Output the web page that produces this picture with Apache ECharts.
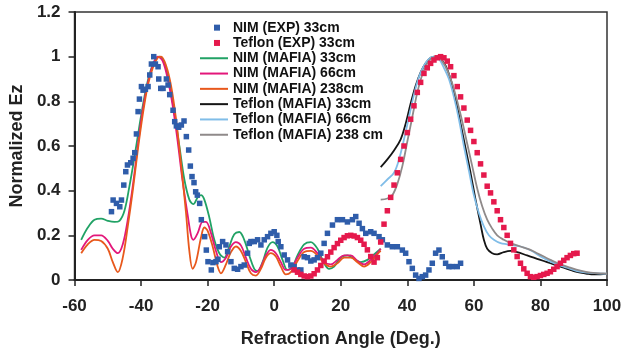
<!DOCTYPE html>
<html>
<head>
<meta charset="utf-8">
<script src="https://cdn.jsdelivr.net/npm/echarts@6/dist/echarts.min.js"></script>
<style>
  html, body { margin: 0; padding: 0; background: #fff; }
  #chart { width: 625px; height: 354px; }
</style>
</head>
<body>
<div id="chart"></div>
<script>
// measured values, [angle in deg, normalized Ez]
const nimExp = [
  [-48.9,0.306],[-48.4,0.358],[-47.4,0.343],[-46.4,0.328],[-45.9,0.358],[-45.2,0.425],[-44.6,0.485],[-44.1,0.515],
  [-43.1,0.525],[-42.4,0.545],[-41.9,0.57],[-41.4,0.654],[-40.9,0.754],[-40.5,0.81],[-39.9,0.866],[-39.4,0.85],
  [-38.7,0.854],[-37.9,0.866],[-37.4,0.918],[-36.9,0.967],[-36.2,1.0],[-35.7,0.967],[-34.9,0.955],[-34.7,0.9],
  [-34.1,0.858],[-33.4,0.858],[-32.4,0.9],[-31.9,0.873],[-31.4,0.83],[-30.4,0.76],[-29.9,0.709],[-29.4,0.69],
  [-28.7,0.684],[-27.9,0.694],[-27.1,0.712],[-26.4,0.642],[-25.7,0.582],[-25.2,0.51],[-24.7,0.463],[-24.1,0.436],
  [-23.6,0.395],[-23.1,0.38],[-22.4,0.343],[-21.9,0.27],[-20.9,0.194],[-20.4,0.134],[-19.9,0.082],[-18.9,0.045],
  [-18.4,0.078],[-17.5,0.082],[-16.9,0.093],[-16.5,0.149],[-15.5,0.172],[-14.5,0.157],[-14,0.127],[-13,0.082],
  [-12,0.052],[-11,0.048],[-10,0.06],[-9,0.067],[-8,0.12],[-7.5,0.164],[-7,0.172],[-6,0.172],[-5,0.18],[-4,0.157],
  [-3,0.18],[-2,0.194],[-1,0.209],[0,0.216],[0.8,0.2],[1.2,0.172],[2,0.149],[3,0.112],[4,0.09],[5,0.067],[6,0.06],
  [7,0.045],[8,0.045],[9,0.104],[10,0.1],[11,0.085],[12,0.09],[13,0.1],[14,0.12],[15,0.164],[16,0.209],[17.5,0.246],
  [19,0.27],[20.5,0.27],[22,0.26],[23.5,0.27],[24.5,0.284],[25.5,0.254],[26.5,0.23],[27.5,0.209],[29,0.216],
  [30,0.209],[31.5,0.194],[32.5,0.18],[34,0.157],[35.5,0.149],[37,0.149],[38.5,0.134],[39.5,0.12],[40.5,0.082],
  [41.5,0.052],[42.5,0.022],[43.5,0.007],[44.5,0.015],[45.5,0.022],[46.5,0.045],[47.5,0.075],[48.5,0.12],
  [49.5,0.134],[50.5,0.104],[51.5,0.075],[52.5,0.06],[53.5,0.06],[55,0.06],[56,0.075]
]

const teflonExp = [
  [6,0.045],[7,0.035],[8,0.025],[9,0.018],[10,0.015],[11,0.018],[12,0.028],[13,0.045],[14,0.065],[15,0.085],
  [16,0.104],[17,0.125],[18,0.145],[19,0.163],[20,0.178],[21,0.19],[22,0.198],[23,0.2],[24,0.197],[25,0.19],
  [26,0.178],[27,0.16],[28,0.135],[29,0.105],[30,0.08],[31,0.1],[32,0.17],[33,0.25],[34,0.31],[35,0.37],
  [36,0.425],[37,0.48],[38,0.54],[39,0.6],[40,0.66],[41,0.72],[42,0.78],[43,0.84],[44,0.885],[45,0.925],
  [46,0.95],[47,0.97],[48,0.985],[49,0.995],[50,1.0],[51,0.995],[52,0.98],[53,0.955],[54,0.915],[55,0.866],
  [56,0.82],[57,0.77],[58,0.716],[59,0.67],[60,0.62],[61,0.57],[62,0.52],[63,0.47],[64,0.42],[65,0.39],
  [66,0.35],[67,0.31],[68,0.27],[69,0.235],[70,0.2],[71,0.164],[72,0.135],[73,0.105],[74,0.075],[75,0.05],
  [76,0.03],[77,0.015],[78,0.012],[79,0.015],[80,0.02],[81,0.025],[82,0.03],[83,0.037],[84,0.048],[85,0.06],
  [86,0.075],[87,0.088],[88,0.1],[89,0.11],[90,0.118],[91,0.12]
]

// simulations
const nimMafia33 = [
  [-58,0.18],[-56,0.235],[-54,0.27],[-52,0.275],[-50,0.265],[-48,0.26],[-46.5,0.265],[-45,0.31],[-43.5,0.42],
  [-42,0.55],[-40.5,0.69],[-39,0.82],[-37.5,0.92],[-36,0.98],[-34.5,1.0],[-33,0.97],[-31.5,0.88],[-30,0.75],
  [-28.5,0.6],[-27,0.45],[-25.5,0.36],[-24.3,0.34],[-23,0.37],[-22,0.38],[-21,0.36],[-19.5,0.28],[-18,0.18],
  [-16.5,0.12],[-15,0.1],[-13.5,0.15],[-12,0.205],[-10.5,0.215],[-9,0.18],[-7.5,0.11],[-6,0.05],[-5,0.04],
  [-3.5,0.08],[-2,0.145],[-0.5,0.17],[1,0.15],[2.5,0.09],[4,0.045],[5.5,0.06],[7,0.11],[9,0.16],[11,0.17],
  [13,0.14],[15,0.075],[16.5,0.05],[18,0.06],[20,0.1],[22,0.11],[24,0.095],[26,0.08],[28,0.09],[30,0.115],[32,0.14]
]

const nimMafia66 = [
  [-58,0.135],[-56,0.18],[-54,0.2],[-52,0.2],[-50,0.175],[-48.5,0.14],[-47,0.12],[-45.5,0.16],[-44,0.27],
  [-42.5,0.42],[-41,0.6],[-39.5,0.76],[-38,0.88],[-36.5,0.96],[-35,1.0],[-33.5,0.98],[-32,0.9],[-30.5,0.78],
  [-29,0.62],[-27.5,0.44],[-26,0.29],[-25,0.2],[-24.3,0.18],[-23,0.21],[-21.5,0.26],[-20.5,0.26],[-19,0.21],
  [-17.5,0.13],[-16,0.08],[-14.5,0.1],[-13,0.15],[-11.5,0.17],[-10,0.155],[-8.5,0.1],[-7,0.05],[-5.5,0.035],
  [-4,0.06],[-2.5,0.11],[-1,0.135],[0.5,0.12],[2,0.08],[3.5,0.045],[5,0.05],[7,0.1],[9,0.14],[11,0.145],
  [13,0.12],[15,0.08],[17,0.07],[19,0.09],[21,0.11],[23,0.11],[25,0.085],[27,0.07],[29,0.09],[31,0.12],[32,0.14]
]

const nimMafia238 = [
  [-58,0.12],[-56,0.16],[-54,0.18],[-52,0.175],[-50,0.14],[-48.5,0.08],[-47,0.035],[-45.5,0.1],[-44,0.24],
  [-42.5,0.4],[-41,0.58],[-39.5,0.74],[-38,0.87],[-36.5,0.95],[-35,0.995],[-34,1.0],[-32.5,0.96],[-31,0.87],
  [-29.5,0.72],[-28,0.52],[-26.5,0.3],[-25.5,0.13],[-24.5,0.05],[-23.5,0.08],[-22,0.19],[-21,0.235],[-20,0.22],
  [-18.5,0.15],[-17,0.06],[-16,0.03],[-14.5,0.07],[-13,0.125],[-11.5,0.15],[-10,0.13],[-8.5,0.08],[-7,0.03],
  [-5.5,0.02],[-4,0.05],[-2.5,0.1],[-1,0.12],[0.5,0.105],[2,0.06],[3.5,0.025],[5,0.035],[7,0.085],[9,0.125],
  [11,0.13],[13,0.11],[15,0.075],[17,0.06],[19,0.075],[21,0.1],[23,0.1],[25,0.08],[27,0.06],[29,0.08],[31,0.115],[32,0.13]
]

const teflonMafia33 = [
  [32,0.505],[34,0.54],[36,0.58],[38,0.63],[39.5,0.7],[41,0.79],[42.5,0.87],[44,0.93],[45.5,0.97],[47,0.995],
  [48.5,1.0],[50,0.99],[51.5,0.96],[53,0.9],[54.5,0.81],[56,0.7],[57.5,0.59],[59,0.48],[60.5,0.36],[62,0.25],
  [63,0.18],[64,0.14],[65.5,0.12],[67,0.115],[69,0.125],[71,0.13],[73,0.125],[76,0.11],[78,0.1],[80,0.09],
  [82,0.08],[84,0.07],[86,0.06],[88,0.05],[90,0.04],[92,0.033],[94,0.028],[96,0.025],[98,0.025],[100,0.027]
]

const teflonMafia66 = [
  [32,0.42],[34,0.45],[36,0.48],[37.5,0.54],[39,0.63],[40.5,0.73],[42,0.83],[43.5,0.91],[45,0.96],[46.5,0.99],
  [48,1.0],[49.5,0.99],[51,0.95],[52.5,0.9],[54,0.82],[55.5,0.72],[57,0.6],[58.5,0.49],[60,0.38],[61.5,0.3],
  [63,0.24],[64.5,0.2],[66,0.18],[68,0.165],[70,0.16],[72,0.155],[74,0.15],[76,0.14],[78,0.125],[80,0.105],
  [82,0.09],[85,0.07],[88,0.055],[91,0.04],[94,0.033],[97,0.03],[100,0.028]
]

const teflonMafia238 = [
  [32,0.36],[34,0.365],[35.5,0.38],[37,0.43],[38.5,0.51],[40,0.62],[41.5,0.73],[43,0.84],[44.5,0.92],[46,0.97],
  [47.5,0.995],[49,1.0],[50.5,0.98],[52,0.94],[53.5,0.88],[55,0.8],[56.5,0.71],[58,0.61],[59.5,0.51],[61,0.41],
  [62.5,0.33],[64,0.27],[65.5,0.23],[67,0.2],[69,0.18],[71,0.165],[73,0.155],[75,0.145],[77,0.135],[79,0.12],
  [81,0.105],[83,0.09],[86,0.07],[89,0.055],[92,0.042],[95,0.033],[98,0.03],[100,0.028]
]

const expNames = ['NIM (EXP) 33cm', 'Teflon (EXP) 33cm']
const simNames = [
  'NIM (MAFIA) 33cm', 'NIM (MAFIA) 66cm', 'NIM (MAFIA) 238cm',
  'Teflon (MAFIA) 33cm', 'Teflon (MAFIA) 66cm', 'Teflon (MAFIA) 238 cm'
]

const font = '"Liberation Sans", Arial, sans-serif'
const axisColor = '#222'
const legendRow = 15.3
const legendText = { fontFamily: font, fontSize: 14, fontWeight: 'bold', color: '#111', lineHeight: legendRow }

const line = (name, data, color) => ({
  name, data, type: 'line', smooth: 0.35, showSymbol: false, symbol: 'none', z: 3,
  lineStyle: { width: 1.8, color }, itemStyle: { color },
})

const scatter = (name, data, color) => ({
  name, data, type: 'scatter', symbol: 'rect', symbolSize: 5.5, z: 5,
  itemStyle: { color, opacity: 1 },
})

const chart = echarts.init(document.getElementById('chart'), null, { renderer: 'canvas' })

chart.setOption({
  animation: false,
  backgroundColor: '#fff',
  textStyle: { fontFamily: font },
  grid: {
    left: 73, right: 18, top: 12, bottom: 74,
    show: true, borderColor: '#333', borderWidth: 1.5, backgroundColor: 'transparent',
  },
  legend: [
    {
      // square markers for the measured data
      orient: 'vertical', left: 209, top: 15, padding: 5,
      icon: 'rect', itemWidth: 6, itemHeight: 6, itemGap: 0,
      textStyle: { ...legendText, padding: [0, 0, 0, 8] },
      data: expNames,
    },
    {
      orient: 'vertical', left: 195, top: 15 + 2 * legendRow, padding: 5,
      icon: 'rect', itemWidth: 28, itemHeight: 2, itemGap: 0,
      textStyle: legendText,
      data: simNames,
    },
  ],
  xAxis: {
    type: 'value',
    min: -60, max: 100, interval: 20,
    name: 'Refraction Angle (Deg.)',
    nameLocation: 'middle',
    nameGap: 50,
    nameTextStyle: { fontFamily: font, fontSize: 18, fontWeight: 'bold', color: '#222' },
    axisLine: { onZero: false, lineStyle: { color: axisColor, width: 2 } },
    axisTick: { inside: false, length: 6, lineStyle: { color: axisColor, width: 1.5 } },
    axisLabel: { fontFamily: font, fontSize: 17, fontWeight: 'bold', color: '#222', margin: 18 },
    splitLine: { show: false },
  },
  yAxis: {
    type: 'value',
    min: 0, max: 1.2, interval: 0.2,
    name: 'Normalized Ez',
    nameLocation: 'middle',
    nameGap: 46,
    nameTextStyle: { fontFamily: font, fontSize: 18, fontWeight: 'bold', color: '#222' },
    axisLine: { show: true, onZero: false, lineStyle: { color: axisColor, width: 2 } },
    axisTick: { show: true, length: 6, lineStyle: { color: axisColor, width: 1.5 } },
    axisLabel: {
      fontFamily: font, fontSize: 17, fontWeight: 'bold', color: '#222', margin: 14,
      formatter: v => String(+v.toFixed(1)),
    },
    splitLine: { show: false },
  },
  series: [
    scatter(expNames[0], nimExp, '#2F5DAA'),
    scatter(expNames[1], teflonExp, '#E5194C'),
    line(simNames[0], nimMafia33, '#21A265'),
    line(simNames[1], nimMafia66, '#E3177A'),
    line(simNames[2], nimMafia238, '#E8581C'),
    line(simNames[3], teflonMafia33, '#151515'),
    line(simNames[4], teflonMafia66, '#80BDE8'),
    line(simNames[5], teflonMafia238, '#8F8A8A'),
  ],
})
</script>
</body>
</html>
